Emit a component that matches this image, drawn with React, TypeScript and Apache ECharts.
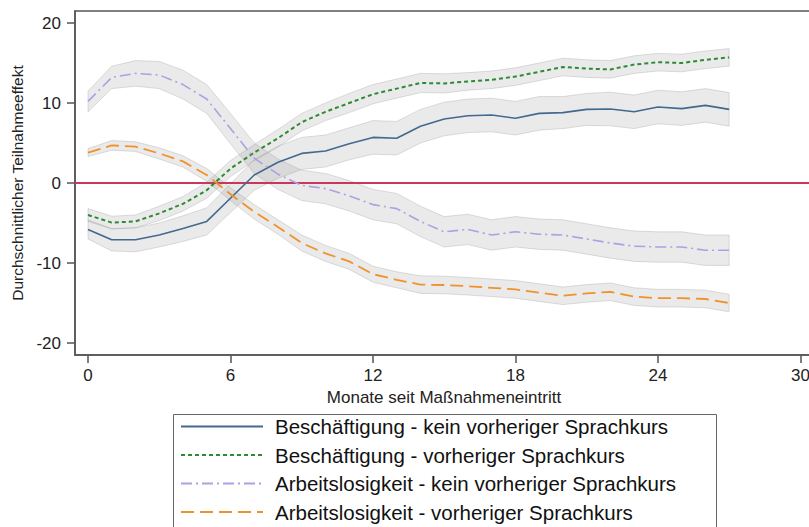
import React, { useEffect, useRef } from "react";
import * as echarts from "echarts";

const months = [0, 1, 2, 3, 4, 5, 6, 7, 8, 9, 10, 11, 12, 13, 14, 15, 16, 17, 18, 19, 20, 21, 22, 23, 24, 25, 26, 27];

const seriesNames = [
  "Beschäftigung - kein vorheriger Sprachkurs",
  "Beschäftigung - vorheriger Sprachkurs",
  "Arbeitslosigkeit - kein vorheriger Sprachkurs",
  "Arbeitslosigkeit - vorheriger Sprachkurs",
];

const beschKein = [-5.8, -7.1, -7.1, -6.5, -5.7, -4.8, -1.9, 1.0, 2.6, 3.7, 4.0, 4.9, 5.7, 5.6, 7.1, 8.0, 8.4, 8.5, 8.1, 8.7, 8.8, 9.2, 9.25, 8.9, 9.5, 9.3, 9.7, 9.2];
const beschKeinCi = [1.2, 1.4, 1.5, 1.5, 1.6, 1.7, 1.8, 1.9, 2.0, 2.0, 2.0, 2.0, 2.1, 2.1, 2.1, 2.1, 2.1, 2.1, 2.1, 2.1, 2.0, 2.0, 2.1, 2.1, 2.1, 2.1, 2.1, 2.1];

const beschVor = [-4.0, -4.95, -4.8, -3.8, -2.6, -0.9, 1.8, 3.8, 5.6, 7.6, 8.9, 10.0, 11.1, 11.8, 12.5, 12.45, 12.7, 12.9, 13.3, 13.9, 14.5, 14.3, 14.2, 14.8, 15.1, 15.0, 15.4, 15.7];
const beschVorCi = [0.8, 0.8, 0.8, 0.9, 0.9, 1.0, 1.0, 1.0, 1.1, 1.1, 1.1, 1.2, 1.2, 1.2, 1.2, 1.2, 1.1, 1.1, 1.1, 1.1, 1.1, 1.1, 1.1, 1.1, 1.1, 1.1, 1.1, 1.1];

const alKein = [10.2, 13.2, 13.7, 13.5, 12.3, 10.5, 6.8, 3.1, 1.1, -0.3, -0.7, -1.6, -2.7, -3.2, -4.8, -6.1, -5.8, -6.5, -6.1, -6.4, -6.5, -7.0, -7.5, -7.9, -8.0, -8.0, -8.4, -8.4];
const alKeinCi = [1.3, 1.4, 1.6, 1.7, 1.8, 1.8, 1.9, 1.9, 1.9, 1.9, 1.9, 1.9, 1.9, 1.9, 1.9, 1.9, 1.9, 1.9, 1.9, 1.9, 1.9, 1.9, 1.9, 1.9, 1.9, 1.9, 1.9, 1.9];

const alVor = [3.8, 4.7, 4.55, 3.7, 2.7, 1.0, -1.4, -3.6, -5.5, -7.5, -8.8, -9.8, -11.4, -12.1, -12.7, -12.75, -12.9, -13.1, -13.3, -13.7, -14.1, -13.8, -13.6, -14.2, -14.4, -14.4, -14.5, -15.0];
const alVorCi = [0.5, 0.6, 0.6, 0.7, 0.7, 0.8, 0.8, 0.9, 0.9, 1.0, 1.0, 1.0, 1.0, 1.0, 1.1, 1.1, 1.1, 1.1, 1.1, 1.1, 1.1, 1.1, 1.1, 1.1, 1.1, 1.1, 1.1, 1.1];

const xTicks = [0, 6, 12, 18, 24, 30];
const yTicks = [-20, -10, 0, 10, 20];

const xTitle = "Monate seit Maßnahmeneintritt";
const yTitle = "Durchschnittlicher Teilnahmeeffekt";

const FONT = "Liberation Sans, Arial, sans-serif";

function bandSeries(vals: number[], ci: number[]) {
  return {
    type: "custom",
    silent: true,
    z: 1,
    data: months.map((m, i) => [m, vals[i] - ci[i], vals[i] + ci[i]]),
    encode: { x: 0, y: [1, 2] },
    renderItem: (params: any, api: any) => {
      if (params.dataIndex !== 0) return null;
      const pts: number[][] = [];
      for (let i = 0; i < months.length; i++) pts.push(api.coord([months[i], vals[i] + ci[i]]));
      for (let i = months.length - 1; i >= 0; i--) pts.push(api.coord([months[i], vals[i] - ci[i]]));
      return {
        type: "polygon",
        shape: { points: pts },
        style: { fill: "rgba(150,150,150,0.2)", stroke: "rgba(150,150,150,0.3)", lineWidth: 1 },
      };
    },
  };
}

function lineSeries(name: string, vals: number[], color: string, width: number, type: any, extra: any = {}) {
  return {
    name,
    type: "line",
    z: 3,
    symbol: "none",
    data: months.map((m, i) => [m, vals[i]]),
    lineStyle: { color, width, type },
    itemStyle: { color },
    ...extra,
  };
}

export default function App() {
  const ref = useRef<HTMLDivElement>(null);
  useEffect(() => {
    if (!ref.current) return;
    const chart = echarts.init(ref.current, null, { renderer: "svg" });
    const colors = ["#43698f", "#2e8a34", "#aaa2e2", "#ef922c"];
    chart.setOption({
      animation: false,
      backgroundColor: "#ffffff",
      textStyle: { fontFamily: FONT },
      grid: {
        left: 75,
        top: 11,
        width: 738,
        height: 344,
        show: true,
        borderColor: "#555555",
        borderWidth: 1.5,
        containLabel: false,
      },
      xAxis: {
        type: "value",
        min: -0.547,
        max: 30.53,
        name: xTitle,
        nameLocation: "middle",
        nameGap: 28,
        nameTextStyle: { fontSize: 17, color: "#222", fontFamily: FONT },
        axisLine: { show: true, onZero: false, lineStyle: { color: "#555555", width: 1.5 } },
        axisTick: { show: true, customValues: xTicks, length: 8, lineStyle: { color: "#555555", width: 1.5 } },
        axisLabel: { customValues: xTicks, fontSize: 17, color: "#222", margin: 12, fontFamily: FONT },
        splitLine: { show: false },
      },
      yAxis: {
        type: "value",
        min: -21.5,
        max: 21.5,
        name: yTitle,
        nameLocation: "middle",
        nameGap: 50,
        nameRotate: 90,
        nameTextStyle: { fontSize: 15.5, color: "#222", fontFamily: FONT },
        axisLine: { show: true, onZero: false, lineStyle: { color: "#555555", width: 1.5 } },
        axisTick: { show: true, customValues: yTicks, length: 8, lineStyle: { color: "#555555", width: 1.5 } },
        axisLabel: { customValues: yTicks, fontSize: 17, color: "#222", margin: 14, fontFamily: FONT },
        splitLine: { show: false },
      },
      legend: {
        orient: "vertical",
        left: 171,
        top: 412,
        data: seriesNames,
        itemWidth: 82,
        itemHeight: 14,
        itemGap: 7.5,
        padding: [4, 10, 0, 9],
        itemStyle: { opacity: 0 },
        textStyle: { fontSize: 20.5, lineHeight: 20, color: "#111", fontFamily: FONT, padding: [0, 0, 0, 7] },
        selectedMode: false,
      },
      graphic: [
        {
          type: "rect",
          left: 171,
          top: 412,
          shape: { width: 543, height: 140 },
          style: { fill: "none", stroke: "#666666", lineWidth: 1 },
          silent: true,
        },
      ],
      series: [
        bandSeries(beschKein, beschKeinCi),
        bandSeries(beschVor, beschVorCi),
        bandSeries(alKein, alKeinCi),
        bandSeries(alVor, alVorCi),
        lineSeries(seriesNames[0], beschKein, colors[0], 1.6, "solid", {
          markLine: {
            silent: true,
            symbol: ["none", "none"],
            label: { show: false },
            lineStyle: { color: "#c8385c", width: 2, type: "solid" },
            data: [{ yAxis: 0 }],
            z: 2,
          },
        }),
        lineSeries(seriesNames[1], beschVor, colors[1], 2, [4, 3]),
        lineSeries(seriesNames[2], alKein, colors[2], 1.6, [11, 4, 2, 4]),
        lineSeries(seriesNames[3], alVor, colors[3], 1.8, [13, 6]),
      ],
    });
    return () => chart.dispose();
  }, []);
  return (
    <div
      style={{ position: "fixed", left: 0, top: 0, width: 809, height: 527, overflow: "hidden", background: "#fff" }}
    >
      <div ref={ref} style={{ width: 822, height: 527 }} />
    </div>
  );
}
